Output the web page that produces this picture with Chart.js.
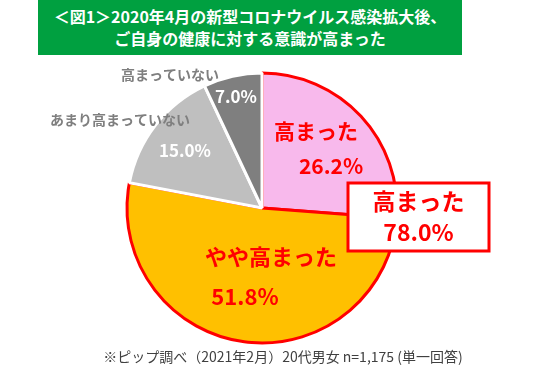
<!DOCTYPE html>
<html>
<head>
<meta charset="utf-8">
<script src="https://cdn.jsdelivr.net/npm/chart.js@4"></script>
<style>
  body { margin: 0; background: #fff; font-family: "Noto Sans CJK JP", sans-serif; }
  #wrap { position: relative; width: 544px; height: 378px; }
  #title {
    position: absolute; left: 38px; top: 0; width: 424px; height: 55px;
    background: #00a040; color: #fff; font-weight: bold; font-size: 16px;
    line-height: 22px; text-align: center; padding-top: 5px; box-sizing: border-box;
  }
  #note {
    position: absolute; left: 0; width: 566px; top: 346px; text-align: center;
    font-size: 14px; color: #404040;
  }
  canvas { position: absolute; left: 0; top: 0; }
</style>
</head>
<body>
<div id="wrap">
  <canvas id="myChart" width="544" height="378"></canvas>
  <div id="title">＜図1＞2020年4月の新型コロナウイルス感染拡大後、<br>ご自身の健康に対する意識が高まった</div>
  <div id="note">※ピップ調べ（2021年2月）20代男女 n=1,175 (単一回答)</div>
</div>
<script>
const labels = ['高まった', 'やや高まった', 'あまり高まっていない', '高まっていない'];
const values = [26.2, 51.8, 15.0, 7.0];
const colors = ['#f8b9ec', '#ffc000', '#bfbfbf', '#7f7f7f'];
const borders = ['#ff0000', '#ff0000', '#ffffff', '#ffffff'];
const groupLabel = '高まった';
const groupValue = 78.0;

const font = '"Noto Sans CJK JP", sans-serif';

function txt(ctx, s, x, y, size, color) {
    ctx.font = 'bold ' + size + 'px ' + font;
    ctx.fillStyle = color;
    ctx.textAlign = 'center';
    ctx.textBaseline = 'middle';
    ctx.fillText(s, x, y);
}

const labelPlugin = {
    id: 'labelPlugin',
    afterDraw(chart) {
        const ctx = chart.ctx;
        const arc = chart.getDatasetMeta(0).data[0];
        const cx = arc.x, cy = arc.y;
        const pct = v => v.toFixed(1) + '%';
        ctx.save();
        // 高まった
        txt(ctx, labels[0], cx + 54, cy - 77, 21, '#ff0000');
        txt(ctx, pct(values[0]), cx + 69, cy - 42, 21, '#ff0000');
        // やや高まった
        txt(ctx, labels[1], cx + 9, cy + 49, 22, '#ff0000');
        txt(ctx, pct(values[1]), cx - 17, cy + 89, 22, '#ff0000');
        // grays
        txt(ctx, pct(values[2]), cx - 77, cy - 57, 17, '#ffffff');
        txt(ctx, pct(values[3]), cx - 26, cy - 111, 17, '#ffffff');
        txt(ctx, labels[2], cx - 142, cy - 88, 14, '#7f7f7f');
        txt(ctx, labels[3], cx - 92, cy - 133, 14, '#7f7f7f');
        // group box
        const bx = cx + 86, by = cy - 25, bw = 141, bh = 68;
        ctx.fillStyle = '#ffffff';
        ctx.fillRect(bx, by, bw, bh);
        ctx.lineWidth = 3;
        ctx.strokeStyle = '#ff0000';
        ctx.strokeRect(bx, by, bw, bh);
        txt(ctx, groupLabel, bx + bw / 2, by + 18, 23, '#ff0000');
        txt(ctx, pct(groupValue), bx + bw / 2, by + 49, 23, '#ff0000');
        ctx.restore();
    }
};

var ctx = document.getElementById('myChart').getContext('2d');
var myChart = new Chart(ctx, {
    type: 'pie',
    data: {
        labels: labels,
        datasets: [{
            data: values,
            backgroundColor: colors,
            borderColor: borders,
            borderWidth: 3,
            hoverOffset: 0
        }]
    },
    options: {
        responsive: false,
        animation: false,
        radius: 135,
        layout: { padding: { left: 0, right: 20, top: 70, bottom: 32 } },
        plugins: {
            legend: { display: false },
            tooltip: { enabled: false }
        }
    },
    plugins: [labelPlugin]
});
</script>
</body>
</html>
